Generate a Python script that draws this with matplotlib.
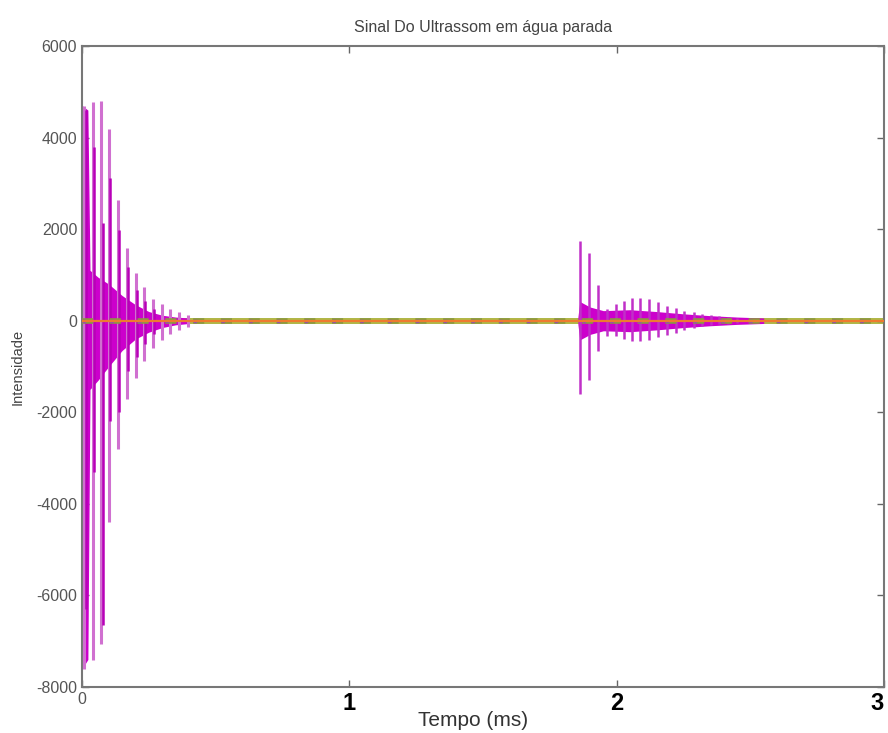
import numpy as np
import matplotlib
matplotlib.use('Agg')
import matplotlib.pyplot as plt

plt.rcParams['font.family'] = ['Liberation Sans', 'DejaVu Sans']

# primeiro eco (pico do transdutor), tempo em ms
b1_t = [0.0075, 0.041, 0.071, 0.101, 0.135, 0.169, 0.202, 0.232, 0.266, 0.300, 0.330, 0.363, 0.397]
b1_pos = [4700, 4780, 4800, 4180, 2640, 1590, 1040, 730, 480, 370, 260, 180, 120]
b1_neg = [-7600, -7420, -7050, -4400, -2800, -1700, -1250, -880, -600, -430, -300, -200, -130]

# traço mais escuro, um pouco deslocado
b1d_t = [0.015, 0.045, 0.078, 0.105, 0.138, 0.172, 0.205, 0.236, 0.270]
b1d_pos = [4600, 3800, 2130, 3120, 1980, 1170, 660, 420, 250]
b1d_neg = [-6300, -3300, -6650, -2200, -2000, -1100, -800, -500, -300]

# envelope denso do primeiro eco
e1_t = [0.0, 0.022, 0.03, 0.06, 0.10, 0.15, 0.20, 0.25, 0.30, 0.35, 0.40]
e1_hi = [4700, 4600, 1100, 950, 800, 550, 350, 200, 120, 80, 60]
e1_lo = [-7600, -7400, -1500, -1300, -1000, -650, -400, -250, -150, -90, -60]

# segundo eco (reflexão)
b2_t = [1.861, 1.895, 1.929, 1.963, 1.996, 2.026, 2.056, 2.086, 2.120, 2.154,
        2.187, 2.221, 2.251, 2.288, 2.318, 2.352, 2.382, 2.416, 2.449]
b2_pos = [1750, 1470, 770, 260, 370, 440, 500, 490, 470, 400,
          330, 280, 220, 180, 150, 130, 100, 80, 70]
b2_neg = [-1600, -1300, -660, -330, -330, -400, -440, -440, -420, -350,
          -320, -270, -200, -150, -120, -100, -80, -70, -60]

e2_t = [1.855, 1.862, 1.90, 1.95, 2.05, 2.15, 2.25, 2.35, 2.45, 2.55]
e2_hi = [80, 420, 300, 220, 240, 200, 150, 110, 80, 60]
e2_lo = [-80, -420, -300, -220, -240, -200, -150, -110, -80, -60]

# ruido de fundo
base_t = [0, 3]
base_v = [0, 0]

xticks = [0, 1, 2, 3]
yticks = [-8000, -6000, -4000, -2000, 0, 2000, 4000, 6000]

fig = plt.figure(figsize=(8.88, 7.33), dpi=100)
ax = fig.add_axes([82 / 888, (733 - 687) / 733, 802 / 888, 641 / 733])

ax.fill_between(base_t, [-70, -70], [70, 70], color='#b0b848', lw=0, zorder=1)
ax.fill_between(e1_t, e1_lo, e1_hi, color='#cc00cc', lw=0, zorder=2)
ax.fill_between(e2_t, e2_lo, e2_hi, color='#cc00cc', lw=0, zorder=2)

ax.vlines(b1_t, b1_neg, b1_pos, color='#d070d0', lw=2.2, zorder=3)
ax.vlines(b1d_t, b1d_neg, b1d_pos, color='#b800b8', lw=1.8, zorder=3)
ax.vlines(b2_t, b2_neg, b2_pos, color='#c030c8', lw=1.8, zorder=3)

ax.plot(base_t, base_v, color='#8a9a40', lw=4, zorder=4, dashes=(2, 3))
ax.plot(base_t, base_v, color='#ee7a30', lw=1.6, zorder=5)
ax.plot(base_t, base_v, color='#9050b0', lw=2.5, zorder=4, dashes=(1, 7))

ax.set_xlim(0, 3)
ax.set_ylim(-8000, 6000)
ax.set_xticks(xticks)
ax.set_yticks(yticks)
ax.set_xticklabels([str(v) for v in xticks])
ax.set_yticklabels([str(v) for v in yticks])

ax.tick_params(direction='in', top=True, right=True, length=5, width=1,
               color='#666666', labelcolor='#555555', labelsize=11.5)
xlabs = ax.get_xticklabels()
for i, lab in enumerate(xlabs):
    if i > 0:
        lab.set_fontsize(17)
        lab.set_fontweight('bold')
        lab.set_color('black')
xlabs[-1].set_ha('right')
for sp in ax.spines.values():
    sp.set_color('#777777')
    sp.set_linewidth(1.5)

ax.set_title('Sinal Do Ultrassom em água parada', fontsize=11.5, color='#444444', pad=10)
ax.set_xlabel('Tempo (ms)', fontsize=15, color='#333333')
ax.xaxis.set_label_coords(0.4875, -0.052)
ax.xaxis.label.set_va('center')
ax.set_ylabel('Intensidade', fontsize=10.5, color='#444444')
ax.yaxis.set_label_coords(-0.080, 0.5)
ax.yaxis.label.set_va('center')

fig.savefig('out.png', dpi=100)
